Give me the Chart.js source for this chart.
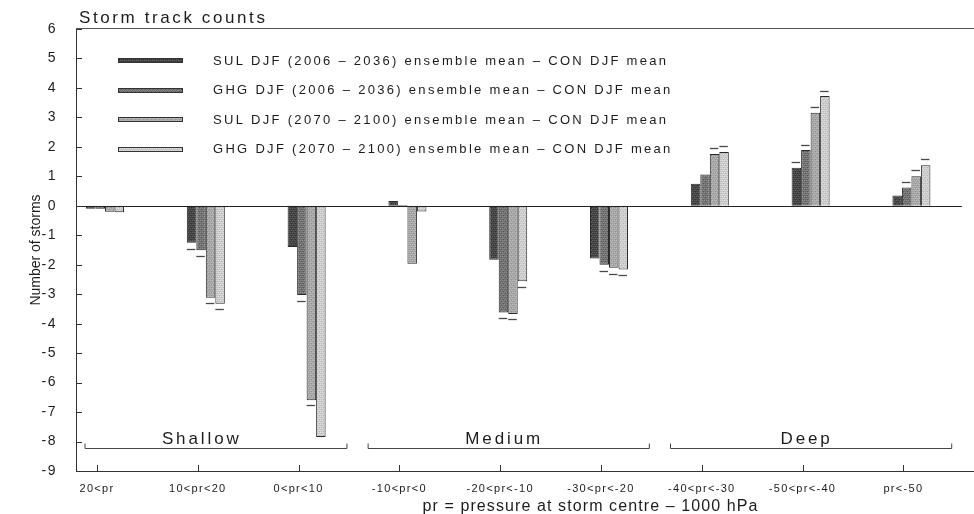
<!DOCTYPE html>
<html>
<head>
<meta charset="utf-8">
<script src="https://cdn.jsdelivr.net/npm/chart.js@4.4.1/dist/chart.umd.min.js"></script>
<style>
html,body{margin:0;padding:0;background:#fff;}
#wrap{width:974px;height:514px;}
</style>
</head>
<body>
<div id="wrap"><canvas id="c" width="974" height="514"></canvas></div>
<script>
// ---------------- data ----------------
const chartTitle = 'Storm track counts';
const xAxisTitle = 'pr = pressure at storm centre \u2013 1000 hPa';
const yAxisTitle = 'Number of storms';
const categories = ['20<pr', '10<pr<20', '0<pr<10', '-10<pr<0', '-20<pr<-10', '-30<pr<-20', '-40<pr<-30', '-50<pr<-40', 'pr<-50'];
const groupNames = ['Shallow', 'Medium', 'Deep'];
const groupFirst = [0, 3, 6];
const groupLast = [2, 5, 8];
const seriesNames = [
  'SUL DJF (2006 \u2013 2036) ensemble mean \u2013 CON DJF mean',
  'GHG DJF (2006 \u2013 2036) ensemble mean \u2013 CON DJF mean',
  'SUL DJF (2070 \u2013 2100) ensemble mean \u2013 CON DJF mean',
  'GHG DJF (2070 \u2013 2100) ensemble mean \u2013 CON DJF mean'
];
const sulEarly = [-0.10, -1.25, -1.40, 0.16, -1.83, -1.79, 0.75, 1.29, 0.35];
const ghgEarly = [-0.10, -1.51, -3.03, 0.03, -3.62, -2.00, 1.06, 1.89, 0.62];
const sulLate  = [-0.20, -3.12, -6.60, -1.97, -3.67, -2.10, 1.76, 3.16, 1.00];
const ghgLate  = [-0.22, -3.32, -7.85, -0.19, -2.56, -2.16, 1.83, 3.73, 1.38];
// short marks drawn just beyond the bar ends (spread markers)
const sulEarlyMark = [null, -1.47, null, null, null, null, null, 1.50, null];
const ghgEarlyMark = [null, -1.70, -3.23, null, -3.80, -2.20, null, 2.08, 0.81];
const sulLateMark  = [null, -3.31, -6.77, null, -3.83, -2.32, 1.95, 3.35, 1.22];
const ghgLateMark  = [null, -3.51, null, null, -2.75, -2.34, 2.02, 3.91, 1.58];
const yMin = -9, yMax = 6, yStep = 1;

// ---------------- styling ----------------
const ink = '#1c1c1c';
const FONT = "'Liberation Sans', Arial, Helvetica, sans-serif";
Chart.defaults.font.family = FONT;
Chart.defaults.color = ink;

function makePattern(base, a, b) {
  const c = document.createElement('canvas');
  c.width = 4; c.height = 4;
  const g = c.getContext('2d');
  g.fillStyle = base; g.fillRect(0, 0, 4, 4);
  g.fillStyle = a;
  [[0,0],[2,0],[1,2],[3,2]].forEach(p => g.fillRect(p[0], p[1], 1, 1));
  g.fillStyle = b;
  [[1,1],[3,3]].forEach(p => g.fillRect(p[0], p[1], 1, 1));
  return g.createPattern(c, 'repeat');
}
const fills = [
  makePattern('#444444', '#5f5f5f', '#2e2e2e'),
  makePattern('#717171', '#8e8e8e', '#525252'),
  makePattern('#a6a6a6', '#bcbcbc', '#8e8e8e'),
  makePattern('#cbcbcb', '#e0e0e0', '#b2b2b2')
];
const seriesValues = [sulEarly, ghgEarly, sulLate, ghgLate];
const seriesMarks = [sulEarlyMark, ghgEarlyMark, sulLateMark, ghgLateMark];
const tickShift = 0.08;
const xTitleShift = 66;

const datasets = seriesValues.map((vals, k) => ({
  label: seriesNames[k],
  data: vals.map((v, i) => ({ x: i, y: v })),
  backgroundColor: fills[k],
  borderColor: '#2a2a2a',
  borderWidth: 1,
  categoryPercentage: 0.377,
  barPercentage: 1.0
}));

function drawText(ctx, s, x, y, size, spacing, align, base) {
  ctx.save();
  ctx.font = size + 'px ' + FONT;
  try { ctx.letterSpacing = spacing; } catch (e) {}
  ctx.textAlign = align;
  ctx.textBaseline = base;
  ctx.fillStyle = ink;
  ctx.fillText(s, x, y);
  ctx.restore();
}

function withSpacing(fn, sp, dx) {
  return function () {
    const ctx = this.ctx;
    ctx.save();
    try { ctx.letterSpacing = sp; } catch (e) {}
    if (dx) ctx.translate(dx, 0);
    try { return fn.apply(this, arguments); }
    finally { ctx.restore(); }
  };
}

const spacingPlugin = {
  id: 'spacing',
  afterLayout(chart) {
    const x = chart.scales.x, y = chart.scales.y;
    if (!x.__sp) { x.drawLabels = withSpacing(x.drawLabels, '1.3px'); x.drawTitle = withSpacing(x.drawTitle, '1.1px', xTitleShift); x.__sp = true; }
    if (!y.__sp) { y.drawLabels = withSpacing(y.drawLabels, '1.5px'); y.__sp = true; }
  }
};

const decorPlugin = {
  id: 'decor',
  afterDatasetsDraw(chart) {
    const ctx = chart.ctx, xs = chart.scales.x, ys = chart.scales.y, ca = chart.chartArea;
    // zero line
    const y0 = Math.round(ys.getPixelForValue(0)) + 0.5;
    ctx.save();
    ctx.strokeStyle = '#222'; ctx.lineWidth = 1;
    ctx.beginPath();
    ctx.moveTo(ca.left, y0);
    ctx.lineTo(xs.getPixelForValue(categories.length - 0.5), y0);
    ctx.stroke();
    // spread marks
    ctx.strokeStyle = '#4a4a4a'; ctx.lineWidth = 1.3;
    seriesMarks.forEach((marks, k) => {
      const meta = chart.getDatasetMeta(k);
      marks.forEach((m, i) => {
        if (m === null) return;
        const bar = meta.data[i];
        const yy = Math.round(ys.getPixelForValue(m)) + 0.5;
        ctx.beginPath();
        ctx.moveTo(bar.x - bar.width / 2, yy);
        ctx.lineTo(bar.x + bar.width / 2 - 1, yy);
        ctx.stroke();
      });
    });
    ctx.restore();
  },
  afterDraw(chart) {
    const ctx = chart.ctx, xs = chart.scales.x, ys = chart.scales.y, ca = chart.chartArea;
    ctx.save();
    // top frame line
    ctx.strokeStyle = '#555'; ctx.lineWidth = 1;
    ctx.beginPath();
    ctx.moveTo(ca.left, Math.round(ca.top) - 0.5);
    ctx.lineTo(chart.width, Math.round(ca.top) - 0.5);
    ctx.stroke();
    // inward tick marks
    ctx.strokeStyle = '#333';
    ys.ticks.forEach(t => {
      const yy = Math.round(ys.getPixelForValue(t.value)) + 0.5;
      ctx.beginPath(); ctx.moveTo(ca.left, yy); ctx.lineTo(ca.left + 6, yy); ctx.stroke();
    });
    xs.ticks.forEach(t => {
      const xx = Math.round(xs.getPixelForValue(t.value)) + 0.5;
      ctx.beginPath(); ctx.moveTo(xx, ca.bottom); ctx.lineTo(xx, ca.bottom - 6); ctx.stroke();
    });
    // group brackets
    const step = xs.getPixelForValue(1) - xs.getPixelForValue(0);
    const by = Math.round(ca.bottom - 23) + 0.5;
    ctx.strokeStyle = '#444';
    groupNames.forEach((name, g) => {
      const x0 = Math.max(xs.getPixelForValue(groupFirst[g]) - 0.39 * step, ca.left + 9);
      const x1 = xs.getPixelForValue(groupLast[g]) + 0.4 * step;
      ctx.beginPath();
      ctx.moveTo(x0, by - 5); ctx.lineTo(x0, by); ctx.lineTo(x1, by); ctx.lineTo(x1, by - 5);
      ctx.stroke();
      const mid = (groupFirst[g] + groupLast[g]) / 2;
      drawText(ctx, name, xs.getPixelForValue(mid) - 0.04 * step, by - 5, 17, '2.9px', 'center', 'alphabetic');
    });
    // title
    drawText(ctx, chartTitle, ca.left + 3, ca.top - 6, 17, '2.6px', 'left', 'alphabetic');
    // legend
    datasets.forEach((ds, k) => {
      const cy = ca.top + 32 + k * 29.6;
      ctx.fillStyle = ds.backgroundColor;
      ctx.fillRect(ca.left + 42, Math.round(cy) - 3, 65, 5);
      ctx.strokeStyle = '#333'; ctx.lineWidth = 1;
      ctx.strokeRect(ca.left + 42.5, Math.round(cy) - 2.5, 64, 4);
      drawText(ctx, ds.label, ca.left + 137, cy, 13, '2.3px', 'left', 'middle');
    });
    ctx.restore();
  }
};

new Chart(document.getElementById('c'), {
  type: 'bar',
  data: { datasets },
  plugins: [spacingPlugin, decorPlugin],
  options: {
    responsive: false,
    devicePixelRatio: 1,
    animation: false,
    layout: { padding: { top: 29, right: 1, left: 0, bottom: 0 } },
    plugins: { legend: { display: false }, tooltip: { enabled: false }, title: { display: false } },
    scales: {
      x: {
        type: 'linear',
        offset: false,
        min: -0.288,
        max: 8.611,
        grid: { display: false, drawTicks: false, offset: false },
        border: { display: true, color: '#333', width: 1 },
        afterBuildTicks(scale) { scale.ticks = categories.map((c, i) => ({ value: i - tickShift })); },
        afterFit(scale) { scale.height = 43; },
        ticks: {
          autoSkip: false, maxRotation: 0, minRotation: 0, padding: 11,
          font: { size: 11 }, color: ink,
          callback: (v, i) => categories[i]
        },
        title: { display: true, text: xAxisTitle, font: { size: 16 }, color: ink, padding: { top: 0, bottom: -2 } }
      },
      y: {
        min: yMin, max: yMax,
        grid: { display: false, drawTicks: false },
        border: { display: true, color: '#333', width: 1 },
        afterFit(scale) { scale.width = 76; },
        ticks: { stepSize: yStep, padding: 19, font: { size: 14 }, color: ink },
        title: { display: true, text: yAxisTitle, font: { size: 14 }, color: ink, padding: { top: 28, bottom: 0 } }
      }
    }
  }
});
</script>
</body>
</html>
